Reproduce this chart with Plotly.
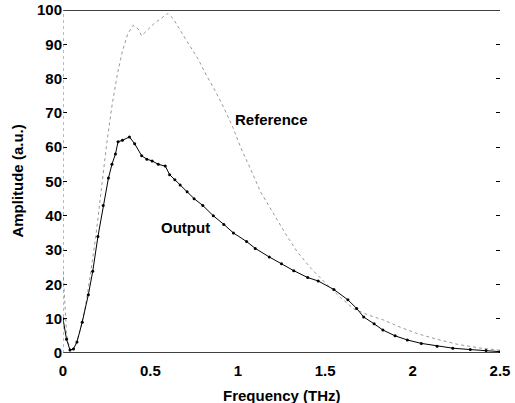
import plotly.graph_objects as go

ref_x = [0, 0.02, 0.04, 0.07, 0.10, 0.13, 0.16, 0.19, 0.22, 0.25, 0.28, 0.31, 0.34, 0.37, 0.40, 0.43, 0.45,
         0.48, 0.52, 0.56, 0.60, 0.63, 0.67, 0.72, 0.77, 0.82, 0.87, 0.92, 0.97, 1.02, 1.07, 1.13, 1.20,
         1.27, 1.34, 1.42, 1.50, 1.58, 1.66, 1.75, 1.83, 1.93, 2.03, 2.14, 2.26, 2.38, 2.5]
ref_y = [24, 6, 0.5, 2, 7, 14, 24, 35, 48, 61, 72, 81, 88, 93, 95.5, 94.5, 92.5, 94, 96, 97.5, 99, 97.5,
         94, 90, 86, 81, 76.5, 71.5, 66, 59.5, 54, 47, 41, 35, 29.5, 24.6, 20.5, 16.5, 13, 11, 9.7, 7.5,
         5.6, 4, 2.5, 1.5, 0.8]

out_x = [0, 0.02, 0.04, 0.06, 0.08, 0.11, 0.145, 0.17, 0.20, 0.23, 0.26, 0.28, 0.30, 0.315, 0.34, 0.38,
         0.41, 0.45, 0.48, 0.51, 0.545, 0.585, 0.61, 0.64, 0.67, 0.71, 0.75, 0.80, 0.86, 0.92, 0.975, 1.05,
         1.10, 1.18, 1.25, 1.32, 1.40, 1.46, 1.55, 1.63, 1.68, 1.72, 1.78, 1.83, 1.90, 1.97, 2.05, 2.14,
         2.23, 2.33, 2.42, 2.5]
out_y = [10, 4, 0.9, 1.2, 3.2, 9, 17, 23.8, 34, 43, 51, 55, 58, 61.6, 62, 63, 61, 57.5, 56.5, 56, 55,
         54.5, 52, 50.5, 49, 47, 45, 43, 40, 37.5, 35, 32.5, 30.5, 28, 26, 24, 22, 21, 18.5, 15.5, 13,
         10.5, 8.5, 6.7, 5, 3.8, 2.8, 2, 1.4, 1, 0.7, 0.4]

x_ticks = [0, 0.5, 1, 1.5, 2, 2.5]
x_labels = ["0", "0.5", "1", "1.5", "2", "2.5"]
y_ticks = [0, 10, 20, 30, 40, 50, 60, 70, 80, 90, 100]

FAM = "Liberation Sans, Arial, sans-serif"
font = dict(family=FAM, size=15, color="black", weight="bold")

fig = go.Figure()
fig.add_trace(go.Scatter(x=ref_x, y=ref_y, mode="lines",
                         line=dict(color="#999999", width=1, dash="dot"), showlegend=False))
fig.add_trace(go.Scatter(x=out_x, y=out_y, mode="lines+markers",
                         line=dict(color="black", width=1),
                         marker=dict(color="black", size=3), showlegend=False))

# frame lines
fig.add_shape(type="line", xref="paper", yref="y", x0=0, x1=1, y0=100, y1=100,
              line=dict(color="black", width=1.5))
fig.add_shape(type="line", xref="paper", yref="y", x0=0, x1=1, y0=0, y1=0,
              line=dict(color="black", width=1.5))
fig.add_shape(type="line", xref="x", yref="y", x0=0, x1=0, y0=0, y1=100,
              line=dict(color="#777777", width=1, dash="dot"))

fig.add_annotation(x=0.97, y=68, text="Reference", showarrow=False, xanchor="left", font=font)
fig.add_annotation(x=0.55, y=36.7, text="Output", showarrow=False, xanchor="left", font=font)

# axis titles
fig.add_annotation(x=0.5, y=-0.125, xref="paper", yref="paper", text="Frequency (THz)",
                   showarrow=False, xanchor="center", yanchor="middle", font=font)
fig.add_annotation(x=-0.105, y=0.5, xref="paper", yref="paper", text="Amplitude (a.u.)",
                   textangle=-90, showarrow=False, xanchor="center", yanchor="middle", font=font)

fig.update_layout(
    width=515, height=403,
    margin=dict(l=63, r=15, t=10, b=50),
    paper_bgcolor="white", plot_bgcolor="white",
    xaxis=dict(range=[0, 2.5], tickvals=x_ticks, ticktext=x_labels, showgrid=False, zeroline=False,
               showline=False, ticks="outside", ticklen=4, tickcolor="rgba(0,0,0,0)", tickfont=font,
               automargin=False),
    yaxis=dict(range=[0, 100], tickvals=y_ticks, showgrid=False, zeroline=False, showline=False,
               ticks="inside", ticklen=4, tickcolor="black", tickfont=font, automargin=False),
    yaxis2=dict(range=[0, 100], tickvals=y_ticks[1:-1], overlaying="y", side="right",
                showgrid=False, zeroline=False, showline=False, ticks="inside", ticklen=4,
                tickcolor="black", showticklabels=False, automargin=False),
)
fig.add_trace(go.Scatter(x=[None], y=[None], yaxis="y2", showlegend=False))

fig.write_html("out.html", config={"displayModeBar": False},
               post_script="document.body.style.margin='0';")
